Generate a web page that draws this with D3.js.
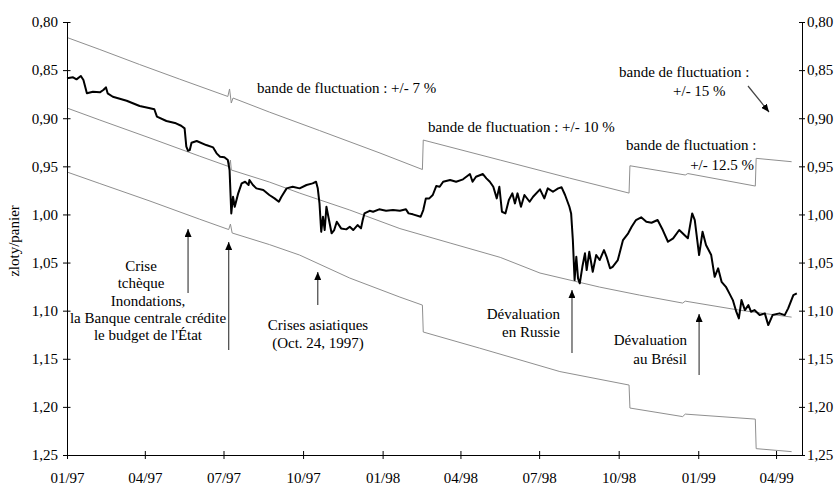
<!DOCTYPE html>
<html>
<head>
<meta charset="utf-8">
<script src="https://cdn.jsdelivr.net/npm/d3@7"></script>
<style>
  body { margin: 0; background: #fff; }
  svg text { font-family: "Liberation Serif", "DejaVu Serif", serif; font-size: 15px; fill: #000; }
</style>
</head>
<body>
<div class="chart"></div>
<script>

// zloty per basket, daily-ish readings
var zlotyRate = [
  ["1997-01-01",0.8585],["1997-01-08",0.8575],["1997-01-12",0.8596],["1997-01-17",0.8561],["1997-01-20",0.8603],
  ["1997-01-24",0.8741],["1997-01-31",0.8725],["1997-02-08",0.8731],["1997-02-12",0.8707],["1997-02-15",0.8679],
  ["1997-02-17",0.8741],["1997-02-23",0.8777],["1997-03-11",0.8818],["1997-03-26",0.8873],["1997-04-07",0.8897],
  ["1997-04-12",0.8907],["1997-04-15",0.8984],["1997-04-26",0.9029],["1997-05-07",0.9053],["1997-05-13",0.9078],
  ["1997-05-17",0.9105],["1997-05-19",0.9296],["1997-05-21",0.9338],["1997-05-23",0.9331],["1997-05-25",0.9255],
  ["1997-05-31",0.9237],["1997-06-11",0.9279],["1997-06-19",0.9303],["1997-06-23",0.9365],["1997-06-27",0.9400],
  ["1997-07-02",0.9406],["1997-07-06",0.9435],["1997-07-08",0.9538],["1997-07-10",0.9989],["1997-07-12",0.9816],
  ["1997-07-14",0.9920],["1997-07-18",0.9781],["1997-07-22",0.9677],["1997-07-26",0.9660],["1997-07-30",0.9694],
  ["1997-07-31",0.9642],["1997-08-04",0.9694],["1997-08-08",0.9729],["1997-08-16",0.9746],["1997-08-23",0.9798],
  ["1997-08-29",0.9833],["1997-09-03",0.9868],["1997-09-06",0.9816],["1997-09-12",0.9729],["1997-09-19",0.9712],
  ["1997-09-27",0.9729],["1997-10-05",0.9694],["1997-10-12",0.9677],["1997-10-16",0.9660],["1997-10-18",0.9729],
  ["1997-10-20",0.9885],["1997-10-22",1.0180],["1997-10-24",1.0024],["1997-10-26",1.0162],["1997-10-28",0.9920],
  ["1997-10-31",1.0058],["1997-11-03",1.0196],["1997-11-06",1.0162],["1997-11-09",1.0076],["1997-11-14",1.0145],
  ["1997-11-20",1.0155],["1997-11-24",1.0128],["1997-11-28",1.0162],["1997-12-03",1.0110],["1997-12-07",1.0145],
  ["1997-12-09",1.0058],["1997-12-11",0.9989],["1997-12-17",0.9962],["1997-12-21",0.9972],["1997-12-28",0.9947],
  ["1998-01-05",0.9962],["1998-01-13",0.9954],["1998-01-21",0.9962],["1998-01-28",0.9947],["1998-01-31",0.9989],
  ["1998-02-05",0.9999],["1998-02-14",1.0024],["1998-02-17",0.9954],["1998-02-20",0.9833],["1998-02-24",0.9833],
  ["1998-02-28",0.9798],["1998-03-04",0.9705],["1998-03-08",0.9712],["1998-03-12",0.9660],["1998-03-20",0.9642],
  ["1998-03-27",0.9660],["1998-04-04",0.9635],["1998-04-12",0.9580],["1998-04-15",0.9660],["1998-04-19",0.9608],
  ["1998-04-27",0.9580],["1998-05-01",0.9625],["1998-05-05",0.9660],["1998-05-09",0.9712],["1998-05-13",0.9833],
  ["1998-05-16",0.9712],["1998-05-19",0.9972],["1998-05-23",0.9989],["1998-05-27",0.9850],["1998-05-31",0.9781],
  ["1998-06-03",0.9885],["1998-06-06",0.9781],["1998-06-10",0.9920],["1998-06-14",0.9798],["1998-06-20",0.9868],
  ["1998-06-24",0.9816],["1998-07-02",0.9739],["1998-07-07",0.9833],["1998-07-11",0.9729],["1998-07-17",0.9764],
  ["1998-07-23",0.9729],["1998-07-27",0.9718],["1998-07-31",0.9798],["1998-08-05",0.9920],["1998-08-07",0.9989],
  ["1998-08-09",1.0266],["1998-08-11",1.0682],["1998-08-13",1.0440],["1998-08-15",1.0664],["1998-08-17",1.0716],
  ["1998-08-20",1.0544],["1998-08-23",1.0404],["1998-08-25",1.0578],["1998-08-28",1.0388],["1998-09-01",1.0596],
  ["1998-09-05",1.0422],["1998-09-09",1.0474],["1998-09-14",1.0370],["1998-09-17",1.0440],["1998-09-21",1.0560],
  ["1998-09-24",1.0544],["1998-09-30",1.0474],["1998-10-06",1.0266],["1998-10-12",1.0196],["1998-10-16",1.0128],
  ["1998-10-21",1.0058],["1998-10-27",1.0030],["1998-11-02",1.0076],["1998-11-08",1.0086],["1998-11-15",1.0058],
  ["1998-11-21",1.0162],["1998-11-27",1.0284],["1998-12-03",1.0248],["1998-12-10",1.0162],["1998-12-16",1.0214],
  ["1998-12-20",1.0248],["1998-12-25",0.9989],["1998-12-28",1.0058],["1999-01-02",1.0422],["1999-01-06",1.0180],
  ["1999-01-10",1.0318],["1999-01-16",1.0422],["1999-01-20",1.0648],["1999-01-24",1.0560],["1999-01-28",1.0700],
  ["1999-02-02",1.0752],["1999-02-06",1.0820],["1999-02-10",1.0890],["1999-02-14",1.1011],["1999-02-17",1.1080],
  ["1999-02-20",1.0890],["1999-02-24",1.0994],["1999-02-28",1.0942],["1999-03-03",1.1011],["1999-03-07",1.0994],
  ["1999-03-13",1.1046],["1999-03-19",1.1028],["1999-03-23",1.1150],["1999-03-28",1.1046],["1999-04-05",1.1028],
  ["1999-04-11",1.1046],["1999-04-15",1.0976],["1999-04-21",1.0838],["1999-04-25",1.0820]
];

var upperBand = [
  ["1997-01-01",0.8161],["1997-02-08",0.8286],["1997-03-26",0.8442],["1997-05-11",0.8593],["1997-07-06",0.8774],
  ["1997-07-08",0.8696],["1997-07-10",0.8842],["1997-07-12",0.8790],["1997-08-23",0.8936],["1997-10-20",0.9128],
  ["1997-12-29",0.9362],["1998-02-16",0.9533],["1998-02-17",0.9227],["1998-05-17",0.9435],["1998-08-05",0.9622],
  ["1998-10-13",0.9778],["1998-10-14",0.9494],["1998-12-17",0.9590],["1998-12-20",0.9575],["1999-03-08",0.9705],
  ["1999-03-09",0.9417],["1999-04-19",0.9452]
];

var centralParity = [
  ["1997-01-01",0.8894],["1997-02-08",0.9019],["1997-04-07",0.9206],["1997-06-03",0.9393],["1997-07-07",0.9502],
  ["1997-07-09",0.9435],["1997-07-10",0.9538],["1997-08-23",0.9663],["1997-09-27",0.9778],["1997-11-24",0.9954],
  ["1998-01-21",1.0147],["1998-03-20",1.0297],["1998-05-17",1.0446],["1998-07-02",1.0609],["1998-09-09",1.0755],
  ["1998-10-25",1.0838],["1998-12-14",1.0921],["1998-12-17",1.0901],["1999-02-17",1.0994],["1999-04-19",1.1067]
];

var lowerBand = [
  ["1997-01-01",0.9559],["1997-02-08",0.9679],["1997-04-07",0.9861],["1997-06-03",1.0048],["1997-07-07",1.0157],
  ["1997-07-09",1.0100],["1997-07-11",1.0193],["1997-08-23",1.0313],["1997-09-27",1.0422],["1997-11-24",1.0661],
  ["1998-01-21",1.0859],["1998-02-16",1.0942],["1998-02-17",1.1222],["1998-04-23",1.1389],["1998-07-25",1.1633],
  ["1998-10-13",1.1773],["1998-10-14",1.2012],["1998-12-14",1.2101],["1998-12-17",1.2075],["1999-03-08",1.2127],
  ["1999-03-09",1.2434],["1999-04-19",1.2465]
];

var xTickDates = ["1997-01-01","1997-04-01","1997-07-01","1997-10-01","1998-01-01","1998-04-01",
                  "1998-07-01","1998-10-01","1999-01-01","1999-04-01"];
var yTicks = [0.80,0.85,0.90,0.95,1.00,1.05,1.10,1.15,1.20,1.25];


var svgWidth = 836;
var svgHeight = 485;
var margin = { top: 22, right: 34, bottom: 30, left: 67 };
var width = svgWidth - margin.left - margin.right;
var height = 455 - margin.top;

var parseDate = d3.timeParse("%Y-%m-%d");
var frLocale = d3.formatLocale({ decimal: ",", thousands: " ", grouping: [3], currency: ["", " zł"] });
var fmt = frLocale.format(".2f");

var svg = d3.select(".chart").append("svg")
  .attr("width", svgWidth)
  .attr("height", svgHeight);

svg.append("defs").append("marker")
  .attr("id", "head")
  .attr("markerUnits", "userSpaceOnUse")
  .attr("markerWidth", 9).attr("markerHeight", 7)
  .attr("refX", 8).attr("refY", 3.5)
  .attr("orient", "auto")
  .append("path").attr("d", "M0,0 L8,3.5 L0,7 Z").attr("fill", "#000");

var chart = svg.append("g")
  .attr("transform", "translate(" + margin.left + "," + margin.top + ")");

var x = d3.scaleTime()
  .domain([parseDate("1997-01-01"), parseDate("1999-05-01")])
  .range([0, width]);
var y = d3.scaleLinear().domain([0.80, 1.25]).range([0, height]);

var line = d3.line()
  .x(function(d) { return x(parseDate(d[0])); })
  .y(function(d) { return y(d[1]); });

// band lines
[upperBand, centralParity, lowerBand].forEach(function(s) {
  chart.append("path").datum(s)
    .attr("d", line)
    .attr("fill", "none")
    .attr("stroke", "#8f8f8f")
    .attr("stroke-width", 1);
});

chart.append("path").datum(zlotyRate)
  .attr("d", line)
  .attr("fill", "none")
  .attr("stroke", "#000")
  .attr("stroke-width", 2)
  .attr("stroke-linejoin", "round");

// axes
var leftAxis = d3.axisLeft(y).tickValues(yTicks).tickFormat(fmt).tickSize(4).tickPadding(5).tickSizeOuter(0);
var rightAxis = d3.axisRight(y).tickValues(yTicks).tickFormat(fmt).tickSize(3).tickPadding(2).tickSizeOuter(0);
var bottomAxis = d3.axisBottom(x).tickValues(xTickDates.map(parseDate))
  .tickFormat(d3.timeFormat("%m/%y")).tickSize(4).tickPadding(13).tickSizeOuter(0);

var gl = chart.append("g").call(leftAxis);
gl.selectAll(".tick line").attr("x1", 3.5);
var gr = chart.append("g").attr("transform", "translate(" + width + ",0)").call(rightAxis);
gr.selectAll(".tick line").attr("x1", -3);
var gb = chart.append("g").attr("transform", "translate(0," + height + ")").call(bottomAxis);
gb.selectAll(".tick line").attr("y1", -4);

[gl, gr, gb].forEach(function(g) {
  g.selectAll("text").attr("font-family", null).attr("font-size", null);
  g.attr("font-family", null).attr("font-size", null);
  g.select(".domain").attr("stroke", "#000");
});

svg.append("text")
  .attr("transform", "translate(19,241) rotate(-90)")
  .attr("text-anchor", "middle")
  .text("zloty/panier");

// annotations
function label(lines, xPos, yPos, anchor, lh) {
  var t = svg.append("text").attr("text-anchor", anchor);
  lines.forEach(function(s, i) {
    t.append("tspan").attr("x", xPos).attr("y", yPos + i * lh).text(s);
  });
}

label(["bande de fluctuation : +/- 7 %"], 257, 93, "start", 0);
label(["bande de fluctuation : +/- 10 %"], 428, 132, "start", 0);
svg.append("text").attr("x", 619).attr("y", 77).text("bande de fluctuation :");
svg.append("text").attr("x", 673).attr("y", 96).text("+/- 15 %");
svg.append("text").attr("x", 626).attr("y", 150).text("bande de fluctuation :");
svg.append("text").attr("x", 754).attr("y", 170).attr("text-anchor", "end").text("+/- 12.5 %");

label(["Crise", "tchèque"], 141, 271, "middle", 16.5);
label(["Inondations,", "la Banque centrale crédite", "le budget de l'État"], 148, 306, "middle", 17);
label(["Crises asiatiques", "(Oct. 24, 1997)"], 318, 330, "middle", 18);
label(["Dévaluation", "en Russie"], 560, 319, "end", 18);
label(["Dévaluation", "au Brésil"], 687, 345, "end", 19);

function arrow(x1, y1, x2, y2) {
  svg.append("line")
    .attr("x1", x1).attr("y1", y1).attr("x2", x2).attr("y2", y2)
    .attr("stroke", "#444").attr("stroke-width", 1.2)
    .attr("marker-end", "url(#head)");
}

function ax(s) { return margin.left + x(parseDate(s)); }

arrow(ax("1997-05-21"), 293, ax("1997-05-21"), 229);
arrow(ax("1997-07-07"), 350, ax("1997-07-07"), 242);
arrow(ax("1997-10-18"), 305, ax("1997-10-18"), 272);
arrow(ax("1998-08-08"), 353, ax("1998-08-08"), 290);
arrow(ax("1999-01-02"), 375, ax("1999-01-02"), 314);
arrow(748, 86, 769, 112);

</script>
</body>
</html>
